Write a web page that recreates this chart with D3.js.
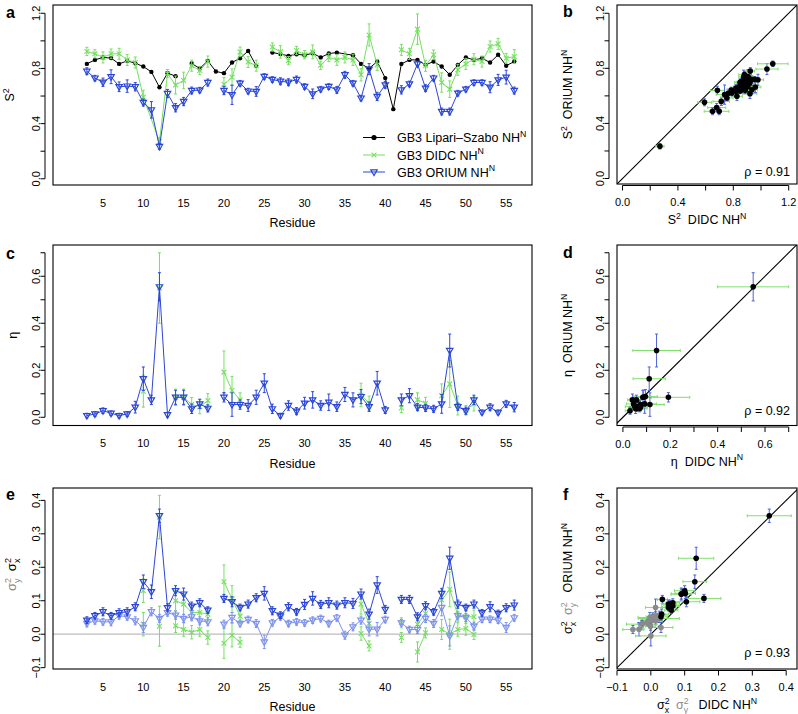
<!DOCTYPE html>
<html><head><meta charset="utf-8">
<script src="https://cdn.jsdelivr.net/npm/d3@7"></script>
<style>body{margin:0;background:#fff}svg text{white-space:pre}</style>
</head><body>
<script>
// ---------------- DATA ----------------
const residues = d3.range(3, 57); // 3..56
// Lipari-Szabo S2 (black)
const lsS2 = [0.833,0.862,0.88,0.875,0.833,0.855,0.838,0.814,0.775,0.664,
  0.766,0.744,null,0.836,0.80,0.855,0.778,0.766,0.843,0.874,
  0.927,0.819,null,0.915,0.905,0.891,0.903,0.896,0.91,0.88,
  0.908,0.915,null,0.896,0.833,0.80,0.85,0.73,0.505,0.833,
  0.862,0.862,0.826,0.85,0.814,0.754,0.826,0.88,0.862,0.874,
  0.843,0.899,0.82,0.85];
const lsBridge = [35];
// DIDC S2 (green)
const didcS2 = [0.923,0.906,0.88,0.906,0.906,0.862,0.843,0.592,null,0.27,
  0.763,0.68,0.713,0.82,0.785,0.85,null,0.685,0.737,0.92,
  0.847,0.82,null,0.955,0.92,0.857,0.93,0.9,0.92,0.823,
  0.88,0.862,0.88,0.862,0.754,1.043,0.826,null,null,0.935,
  0.906,1.085,0.819,0.899,0.698,0.65,0.79,0.833,0.867,0.85,
  0.959,0.978,0.874,0.886];
const didcS2Err = [0.03,0.03,0.04,0.035,0.04,0.04,0.04,0.05,null,0.03,
  0.03,0.065,0.06,0.04,0.03,0.04,null,0.05,0.06,0.035,
  0.04,0.04,null,0.03,0.045,0.03,0.03,0.03,0.05,0.03,
  0.03,0.04,0.04,0.04,0.045,0.08,0.04,null,null,0.04,
  0.04,0.11,0.04,0.035,0.07,0.06,0.04,0.04,0.04,0.04,
  0.04,0.04,0.035,0.05];
const didcBridge = [11];
// ORIUM S2 (blue)
const oriumS2 = [0.78,0.73,0.70,0.74,0.667,0.672,0.667,0.553,0.5,0.234,
  0.618,0.515,0.56,0.64,0.643,0.698,null,0.64,0.609,0.693,
  0.636,0.633,0.742,0.72,0.707,0.70,0.72,0.669,0.616,0.65,
  0.669,0.645,0.754,0.693,0.585,0.795,0.597,0.681,null,0.645,
  0.688,0.833,0.657,0.73,0.488,0.488,0.621,0.65,0.698,0.698,
  0.664,0.717,0.737,0.64];
const oriumS2Err = [0.025,0.02,0.03,0.05,0.035,0.045,0.03,0.025,0.06,0.02,
  0.03,0.03,0.03,0.025,0.02,0.025,null,0.03,0.07,0.02,
  0.02,0.035,0.02,0.02,0.025,0.025,0.025,0.02,0.035,0.02,
  0.02,0.025,0.025,0.02,0.02,0.04,0.03,0.025,null,0.03,
  0.02,0.02,0.025,0.02,0.025,0.025,0.02,0.02,0.02,0.02,
  0.04,0.04,0.05,0.025];
// ORIUM eta
const oriumEta = [0.007,0.014,0.028,0.017,0.007,0.014,0.043,0.164,0.074,0.555,
  0.011,0.085,0.085,0.036,0.057,0.038,null,0.085,0.054,0.054,
  0.05,0.085,0.145,0.036,0.007,0.05,0.026,0.06,0.074,0.05,
  0.064,0.045,0.097,0.074,0.088,0.045,0.145,0.031,null,0.074,
  0.092,0.043,0.04,0.036,0.057,0.284,0.045,0.028,0.074,0.021,
  0.043,0.021,0.057,0.043];
const oriumEtaErr = [0.01,0.01,0.012,0.01,0.01,0.01,0.025,0.05,0.02,0.06,
  0.01,0.03,0.03,0.02,0.02,0.015,null,0.02,0.05,0.02,
  0.025,0.03,0.04,0.02,0.01,0.02,0.015,0.025,0.035,0.02,
  0.035,0.02,0.03,0.03,0.03,0.02,0.05,0.015,null,0.025,
  0.03,0.015,0.015,0.015,0.04,0.07,0.015,0.015,0.02,0.01,
  0.015,0.01,0.015,0.02];
// ORIUM sigma_x^2 (dark blue) and sigma_y^2 (light blue)
const oriumSx = [0.042,0.055,0.067,0.055,0.064,0.067,0.082,0.157,0.127,0.354,
  0.079,0.13,0.12,0.084,0.094,0.072,null,0.107,0.097,0.08,
  0.09,0.109,0.122,0.07,0.057,0.082,0.067,0.089,0.107,0.089,
  0.094,0.087,0.094,0.092,0.12,0.06,0.147,0.074,null,0.104,
  0.104,0.052,0.085,0.067,0.122,0.227,0.09,0.08,0.09,0.064,
  0.082,0.062,0.079,0.087];
const oriumSxErr = [0.01,0.01,0.012,0.01,0.012,0.012,0.012,0.02,0.02,0.02,
  0.012,0.015,0.018,0.012,0.012,0.01,null,0.012,0.015,0.01,
  0.012,0.012,0.02,0.012,0.01,0.012,0.01,0.015,0.02,0.012,
  0.015,0.012,0.015,0.015,0.015,0.015,0.025,0.012,null,0.012,
  0.012,0.012,0.012,0.01,0.015,0.033,0.012,0.01,0.012,0.01,
  0.015,0.01,0.012,0.015];
const oriumSy = [0.032,0.04,0.037,0.037,0.055,0.052,0.04,0.02,0.067,0.047,
  0.064,0.057,0.047,0.052,0.04,0.037,null,0.03,0.05,0.032,
  0.044,0.032,-0.023,0.034,0.052,0.032,0.037,0.034,0.042,0.047,
  0.032,0.049,-0.003,0.022,0.042,0.015,0.015,0.044,null,0.034,
  0.014,0.014,0.047,0.032,0.08,-0.005,0.055,0.05,0.024,0.045,
  0.045,0.042,0.02,0.049];
const oriumSyErr = [0.01,0.01,0.01,0.012,0.01,0.01,0.012,0.015,0.012,0.012,
  0.01,0.012,0.012,0.012,0.012,0.012,null,0.012,0.015,0.01,
  0.01,0.012,0.02,0.01,0.01,0.01,0.01,0.01,0.01,0.01,
  0.01,0.01,0.012,0.012,0.012,0.02,0.02,0.01,null,0.01,
  0.01,0.012,0.012,0.012,0.025,0.03,0.012,0.012,0.012,0.01,
  0.01,0.01,0.015,0.01];
// DIDC anisotropy parameters exist only for a subset of residues
const didcSubset = [10,12,14,15,16,17,18,20,21,22,37,38,42,44,45,47,48,49,50,51];
const didcEta    = [0.111,0.55,0.085,0.085,0.054,0.045,0.071,0.192,0.114,0.074,0.095,0.06,0.04,0.074,0.06,0.092,0.142,0.05,0.03,0.057];
const didcEtaErr = [0.068,0.15,0.035,0.035,0.03,0.03,0.03,0.09,0.06,0.03,0.05,0.03,0.02,0.03,0.025,0.05,0.1,0.04,0.02,0.03];
const didcSx     = [0.13,0.35,0.10,0.09,0.065,0.065,0.06,0.157,0.105,0.054,0.09,0.032,0.034,0.03,0.062,0.102,0.134,0.057,0.052,0.052];
const didcSxErr  = [0.035,0.065,0.03,0.03,0.02,0.02,0.02,0.05,0.04,0.02,0.03,0.02,0.015,0.02,0.02,0.03,0.052,0.02,0.02,0.02];
const didcSy     = [0.03,0.024,0.025,0.014,0.006,0.014,-0.01,-0.027,-0.003,-0.024,0.002,-0.035,-0.01,-0.053,0.004,0.014,0.0,0.014,0.017,-0.001];
const didcSyErr  = [0.035,0.06,0.02,0.02,0.02,0.02,0.02,0.045,0.035,0.015,0.02,0.015,0.015,0.03,0.015,0.03,0.045,0.02,0.02,0.015];
const rhoLabels = ["0.91","0.92","0.93"];
const residueTicks = d3.range(5, 56, 5);

// ---------------- SETUP ----------------
const FONT = '"Liberation Sans", Arial, Helvetica, sans-serif';
const svg = d3.select('body').append('svg').attr('width',798).attr('height',714)
  .style('font-family',FONT).style('background','#fff');
const COL = {green:'#74e05f', blue:'#2a46d8', light:'#7f93ee', gray:'#8a8a8a', zero:'#bdbdbd',
  hBar:'#7fe06c', vBar:'#4b62d4'};
const TICKFS = 11, TITLEFS = 12.5;
const idx = r => residues.indexOf(r);

const boxA={x0:53,x1:532,y0:5,y1:185}, boxC={x0:53,x1:532,y0:245,y1:425.5}, boxE={x0:53,x1:532,y0:488,y1:669};
const boxB={x0:617,x1:797,y0:5,y1:184}, boxD={x0:617,x1:797,y0:245,y1:425.5}, boxF={x0:617,x1:797,y0:488,y1:669};

const xRes = b => d3.scaleLinear([-1.2,58.2],[b.x0,b.x1]);
let clipId=0;
function clipFor(b){const id='clip'+(clipId++);
  svg.append('clipPath').attr('id',id).append('rect').attr('x',b.x0).attr('y',b.y0).attr('width',b.x1-b.x0).attr('height',b.y1-b.y0);
  return 'url(#'+id+')';}

function rich(text, parts, fs){
  let off=0;
  parts.forEach(p=>{
    if(p.t!=null){const ts=text.append('tspan').text(p.t).attr('dy',-off).attr('font-size',fs); off=0; if(p.fill) ts.attr('fill',p.fill);}
    if(p.sup!=null){const d=-0.42*fs; const ts=text.append('tspan').text(p.sup).attr('dy',d-off).attr('font-size',fs*0.7); off=d; if(p.fill) ts.attr('fill',p.fill);
      if(p.sub!=null){const d2=0.3*fs; const w=0.556*fs*0.7*p.sup.length;
        const ts2=text.append('tspan').text(p.sub).attr('dx',-w).attr('dy',d2-off).attr('font-size',fs*0.7); off=d2; if(p.fill) ts2.attr('fill',p.fill);}}
  });
}
function label(x,y,parts,{rot=false,anchor='middle',fs=TITLEFS,weight=null}={}){
  const t=svg.append('text').attr('text-anchor',anchor).attr('font-size',fs);
  if(rot) t.attr('transform',`translate(${x},${y}) rotate(-90)`); else t.attr('x',x).attr('y',y);
  if(weight) t.attr('font-weight',weight);
  rich(t,parts,fs); return t;
}
function box(b){svg.append('rect').attr('x',b.x0).attr('y',b.y0).attr('width',b.x1-b.x0).attr('height',b.y1-b.y0)
  .attr('fill','none').attr('stroke','#000').attr('stroke-width',1.1);}
function yAxis(b,y,ticks,labels){
  const ax=b.x0-8, g=svg.append('g');
  g.append('line').attr('x1',ax).attr('x2',ax).attr('y1',y(d3.min(ticks))).attr('y2',y(d3.max(ticks))).attr('stroke','#000');
  ticks.forEach(t=>g.append('line').attr('x1',ax).attr('x2',ax-4.5).attr('y1',y(t)).attr('y2',y(t)).attr('stroke','#000'));
  labels.forEach(t=>g.append('text').attr('transform',`translate(${b.x0-16.5},${y(t)}) rotate(-90)`)
    .attr('text-anchor','middle').attr('dy','0.35em').attr('font-size',TICKFS).text(d3.format('.1f')(t)));
}
function xAxisScatter(b,x,ticks,labels){
  const g=svg.append('g'), ay=b.y1+1.5;
  g.append('line').attr('x1',x(d3.min(ticks))).attr('x2',x(d3.max(ticks))).attr('y1',ay).attr('y2',ay).attr('stroke','#000');
  ticks.forEach(t=>g.append('line').attr('x1',x(t)).attr('x2',x(t)).attr('y1',ay).attr('y2',ay+5).attr('stroke','#000'));
  labels.forEach(t=>g.append('text').attr('x',x(t)).attr('y',b.y1+22).attr('text-anchor','middle').attr('font-size',TICKFS).text(d3.format('.1f')(t)));
}
function xAxisRes(b,x){
  residueTicks.forEach(t=>svg.append('text').attr('x',x(t)).attr('y',b.y1+21.5).attr('text-anchor','middle').attr('font-size',TICKFS).text(t));
  svg.append('text').attr('x',(b.x0+b.x1)/2).attr('y',b.y1+42).attr('text-anchor','middle').attr('font-size',TITLEFS).text('Residue');
}
const rng=(a,b,s)=>d3.range(Math.round(a/s),Math.round(b/s)+1).map(k=>+(k*s).toFixed(4));

// markers
function mCircle(g,cx,cy,col,r=2.2){g.append('circle').attr('cx',cx).attr('cy',cy).attr('r',r).attr('fill',col);}
function mCross(g,cx,cy,col){const s=2.4;g.append('path').attr('d',`M${cx-s},${cy-s}L${cx+s},${cy+s}M${cx-s},${cy+s}L${cx+s},${cy-s}`).attr('stroke',col).attr('stroke-width',1.1).attr('fill','none');}
function mTri(g,cx,cy,col){const s=3.2;g.append('path').attr('d',`M${cx-s},${cy-s*0.65}L${cx+s},${cy-s*0.65}L${cx},${cy+s*1.1}Z`).attr('stroke',col).attr('stroke-width',1.2).attr('fill','none');}
function vErr(g,cx,y,v,e,col,w=1){const a=y(v-e),b=y(v+e);
  g.append('path').attr('d',`M${cx},${a}V${b}M${cx-1.5},${a}H${cx+1.5}M${cx-1.5},${b}H${cx+1.5}`).attr('stroke',col).attr('stroke-width',w).attr('fill','none');}
function hErr(g,x,cy,v,e,col,w=1){const a=x(v-e),b=x(v+e);
  g.append('path').attr('d',`M${a},${cy}H${b}M${a},${cy-1.5}V${cy+1.5}M${b},${cy-1.5}V${cy+1.5}`).attr('stroke',col).attr('stroke-width',w).attr('fill','none');}

function runsBridge(res,vals,bridge=[]){const out=[];let cur=[];
  res.forEach((r,i)=>{const v=vals[i]; if(v==null){ if(!bridge.includes(r)){ if(cur.length) out.push(cur); cur=[]; } } else cur.push([r,v]);});
  if(cur.length) out.push(cur); return out;}
function runsConsec(res,vals){const out=[];let cur=[],prev=null;
  res.forEach((r,i)=>{ if(prev!=null && r!==prev+1){out.push(cur);cur=[];} cur.push([r,vals[i]]); prev=r;});
  if(cur.length) out.push(cur); return out;}

function series(g,x,y,segs,res,vals,errs,col,marker,errCol){
  const line=d3.line().x(d=>x(d[0])).y(d=>y(d[1]));
  segs.forEach(s=>{ if(s.length>1) g.append('path').attr('d',line(s)).attr('fill','none').attr('stroke',col).attr('stroke-width',1); });
  if(errs) res.forEach((r,i)=>{ if(vals[i]!=null && errs[i]!=null) vErr(g,x(r),y,vals[i],errs[i],errCol||col); });
  res.forEach((r,i)=>{ if(vals[i]!=null) marker(g,x(r),y(vals[i]),col); });
}

// ---------------- PANEL a ----------------
(function(){
  const b=boxA, x=xRes(b), y=d3.scaleLinear([-0.045,1.26],[b.y1,b.y0]);
  const g=svg.append('g').attr('clip-path',clipFor(b));
  series(g,x,y,runsBridge(residues,lsS2,lsBridge),residues,lsS2,null,'#000',(g,a,c,col)=>mCircle(g,a,c,col));
  series(g,x,y,runsBridge(residues,didcS2,didcBridge),residues,didcS2,didcS2Err,COL.green,mCross);
  series(g,x,y,runsBridge(residues,oriumS2),residues,oriumS2,oriumS2Err,COL.blue,mTri);
  box(b); yAxis(b,y,rng(0,1.2,0.2),[0,0.4,0.8,1.2]); xAxisRes(b,x);
  label(14,(b.y0+b.y1)/2,[{t:'S',sup:'2'}],{rot:true});
  label(6,18,[{t:'a'}],{anchor:'start',fs:16,weight:'bold'});
  // legend
  const leg=[{txt:'GB3 Lipari\u2013Szabo NH',col:'#000',m:(g,a,c,col)=>mCircle(g,a,c,col,2.6)},
             {txt:'GB3 DIDC NH',col:COL.green,m:mCross},{txt:'GB3 ORIUM NH',col:COL.blue,m:mTri}];
  const rows=[137.5,155,172];
  leg.forEach((l,i)=>{const yy=rows[i];
    svg.append('line').attr('x1',363).attr('x2',385).attr('y1',yy).attr('y2',yy).attr('stroke',l.col);
    l.m(svg,374,yy,l.col);
    label(397,yy+4.5,[{t:l.txt,sup:'N'}],{anchor:'start'});
  });
})();

// ---------------- PANEL c ----------------
(function(){
  const b=boxC, x=xRes(b), y=d3.scaleLinear([-0.035,0.733],[b.y1,b.y0]);
  const g=svg.append('g').attr('clip-path',clipFor(b));
  series(g,x,y,runsConsec(didcSubset,didcEta),didcSubset,didcEta,didcEtaErr,COL.green,mCross);
  series(g,x,y,runsBridge(residues,oriumEta),residues,oriumEta,oriumEtaErr,COL.blue,mTri);
  box(b); yAxis(b,y,rng(0,0.7,0.1),[0,0.2,0.4,0.6]); xAxisRes(b,x);
  label(17,(b.y0+b.y1)/2,[{t:'\u03b7'}],{rot:true});
  label(6,259,[{t:'c'}],{anchor:'start',fs:16,weight:'bold'});
})();

// ---------------- PANEL e ----------------
(function(){
  const b=boxE, x=xRes(b), y=d3.scaleLinear([-0.104,0.437],[b.y1,b.y0]);
  const g=svg.append('g').attr('clip-path',clipFor(b));
  g.append('line').attr('x1',b.x0).attr('x2',b.x1).attr('y1',y(0)).attr('y2',y(0)).attr('stroke',COL.zero).attr('stroke-width',1.2);
  series(g,x,y,runsConsec(didcSubset,didcSy),didcSubset,didcSy,didcSyErr,COL.green,mCross);
  series(g,x,y,runsConsec(didcSubset,didcSx),didcSubset,didcSx,didcSxErr,COL.green,mCross);
  series(g,x,y,runsBridge(residues,oriumSy),residues,oriumSy,oriumSyErr,COL.light,mTri);
  series(g,x,y,runsBridge(residues,oriumSx),residues,oriumSx,oriumSxErr,COL.blue,mTri);
  box(b); yAxis(b,y,rng(-0.1,0.4,0.1),rng(-0.1,0.4,0.1)); xAxisRes(b,x);
  label(16,(b.y0+b.y1)/2-4,[{t:'\u03c3',sup:'2',sub:'y',fill:COL.gray},{t:'  '},{t:'\u03c3',sup:'2',sub:'x'}],{rot:true,fs:13});
  label(6,500,[{t:'e'}],{anchor:'start',fs:16,weight:'bold'});
})();

// ---------------- scatter helper ----------------
function scatter(b,dom,pairsList,ticks,labels,xParts,yParts,letter,letterY,rho,rhoY){
  const x=d3.scaleLinear(dom.x,[b.x0,b.x1]), y=d3.scaleLinear(dom.y,[b.y1,b.y0]);
  const g=svg.append('g').attr('clip-path',clipFor(b));
  g.append('line').attr('x1',x(-1)).attr('y1',y(-1)).attr('x2',x(2)).attr('y2',y(2)).attr('stroke','#000').attr('stroke-width',1.1);
  pairsList.forEach(P=>{
    P.pts.forEach(p=>{ hErr(g,x,y(p.v),p.u,p.eu,COL.hBar); vErr(g,x(p.u),y,p.v,p.ev,COL.vBar); });
  });
  pairsList.forEach(P=>P.pts.forEach(p=>mCircle(g,x(p.u),y(p.v),P.col,2.8)));
  box(b); yAxis(b,y,ticks.y,labels.y); xAxisScatter(b,x,ticks.x,labels.x);
  label((b.x0+b.x1)/2,b.y1+40,xParts);
  label(572,(b.y0+b.y1)/2,yParts,{rot:true});
  label(563,letterY,[{t:letter}],{anchor:'start',fs:16,weight:'bold'});
  label(790,rhoY,[{t:'\u03c1 = '+rho}],{anchor:'end'});
}
function pairsFull(a,ea,bv,eb){const out=[];residues.forEach((r,i)=>{ if(a[i]!=null&&bv[i]!=null) out.push({u:a[i],eu:ea[i],v:bv[i],ev:eb[i]});});return out;}
function pairsSub(a,ea,bv,eb){return didcSubset.map((r,i)=>({u:a[i],eu:ea[i],v:bv[idx(r)],ev:eb[idx(r)]}));}

// ---------------- PANEL b ----------------
scatter(boxB,{x:[-0.04,1.26],y:[-0.04,1.26]},
  [{col:'#000',pts:pairsFull(didcS2,didcS2Err,oriumS2,oriumS2Err)}],
  {x:rng(0,1.2,0.2),y:rng(0,1.2,0.2)},{x:[0,0.4,0.8,1.2],y:[0,0.4,0.8,1.2]},
  [{t:'S',sup:'2'},{t:'  DIDC NH',sup:'N'}],[{t:'S',sup:'2'},{t:'  ORIUM NH',sup:'N'}],'b',17,rhoLabels[0],176);

// ---------------- PANEL d ----------------
scatter(boxD,{x:[-0.025,0.735],y:[-0.035,0.733]},
  [{col:'#000',pts:pairsSub(didcEta,didcEtaErr,oriumEta,oriumEtaErr)}],
  {x:rng(0,0.7,0.1),y:rng(0,0.7,0.1)},{x:[0,0.2,0.4,0.6],y:[0,0.2,0.4,0.6]},
  [{t:'\u03b7'},{t:'  DIDC NH',sup:'N'}],[{t:'\u03b7'},{t:'  ORIUM NH',sup:'N'}],'d',258,rhoLabels[1],415);

// ---------------- PANEL f ----------------
scatter(boxF,{x:[-0.1,0.432],y:[-0.104,0.437]},
  [{col:COL.gray,pts:pairsSub(didcSy,didcSyErr,oriumSy,oriumSyErr)},
   {col:'#000',pts:pairsSub(didcSx,didcSxErr,oriumSx,oriumSxErr)}],
  {x:rng(-0.1,0.4,0.1),y:rng(-0.1,0.4,0.1)},{x:rng(-0.1,0.4,0.1),y:rng(-0.1,0.4,0.1)},
  [{t:'\u03c3',sup:'2',sub:'x'},{t:'  '},{t:'\u03c3',sup:'2',sub:'y',fill:COL.gray},{t:'   DIDC NH',sup:'N'}],
  [{t:'\u03c3',sup:'2',sub:'x'},{t:'  '},{t:'\u03c3',sup:'2',sub:'y',fill:COL.gray},{t:'   ORIUM NH',sup:'N'}],'f',500,rhoLabels[2],657);
</script></body></html>
